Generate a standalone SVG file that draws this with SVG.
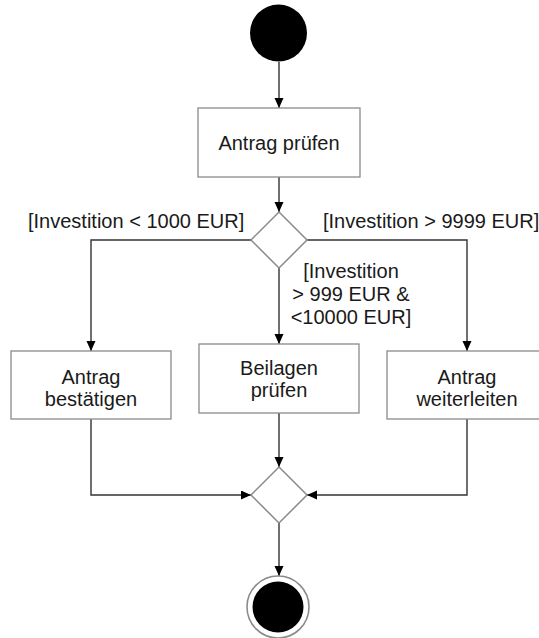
<svg xmlns="http://www.w3.org/2000/svg" width="539" height="638" viewBox="0 0 539 638">
<style>
.box{fill:#fff;stroke:#8a8a8a;stroke-width:1.3}
.dia{fill:#fff;stroke:#8a8a8a;stroke-width:1.5}
.con{fill:none;stroke:#333;stroke-width:1.4}
text{font-family:"Liberation Sans",Arial,sans-serif;font-size:20px;fill:#1a1a1a}
.c{text-anchor:middle}
</style>
<defs>
<marker id="ah" markerUnits="userSpaceOnUse" markerWidth="11" markerHeight="10" refX="10" refY="4.5" orient="auto">
<path d="M0,0 L10,4.5 L0,9 z" fill="#000"/>
</marker>
</defs>
<rect width="539" height="638" fill="#fff"/>
<g id="connectors">
<path class="con" d="M279,62 V108" marker-end="url(#ah)"/>
<path class="con" d="M279,177 V212" marker-end="url(#ah)"/>
<path class="con" d="M251,240 H91 V351" marker-end="url(#ah)"/>
<path class="con" d="M279,268 V344" marker-end="url(#ah)"/>
<path class="con" d="M307,240 H467 V351" marker-end="url(#ah)"/>
<path class="con" d="M91,419 V495 H251" marker-end="url(#ah)"/>
<path class="con" d="M279,413 V467" marker-end="url(#ah)"/>
<path class="con" d="M467,419 V495 H307" marker-end="url(#ah)"/>
<path class="con" d="M279,523 V576" marker-end="url(#ah)"/>
<text x="28" y="228">[Investition &lt; 1000 EUR]</text>
<text x="323" y="228">[Investition &gt; 9999 EUR]</text>
<text class="c" x="351" y="278">[Investition</text>
<text class="c" x="351" y="301">&gt; 999 EUR &amp;</text>
<text class="c" x="351" y="324">&lt;10000 EUR]</text>
</g>
<g id="start">
<circle cx="278.5" cy="33" r="28.5" fill="#000"/>
</g>
<g id="antrag-pruefen">
<rect class="box" x="198" y="108" width="162" height="69"/>
<text class="c" x="279" y="150">Antrag prüfen</text>
</g>
<g id="decision">
<path class="dia" d="M279,212 L307,240 L279,268 L251,240 Z"/>
</g>
<g id="antrag-bestaetigen">
<rect class="box" x="11" y="351" width="160" height="68"/>
<text class="c" x="91" y="384">Antrag</text>
<text class="c" x="91" y="406">bestätigen</text>
</g>
<g id="beilagen-pruefen">
<rect class="box" x="199" y="344" width="160" height="69"/>
<text class="c" x="279" y="375">Beilagen</text>
<text class="c" x="279" y="397">prüfen</text>
</g>
<g id="antrag-weiterleiten">
<rect class="box" x="387" y="351" width="160" height="68"/>
<text class="c" x="467" y="384">Antrag</text>
<text class="c" x="467" y="406">weiterleiten</text>
</g>
<g id="merge">
<path class="dia" d="M279,467 L307,495 L279,523 L251,495 Z"/>
</g>
<g id="end">
<circle cx="278" cy="607" r="31" fill="#fff" stroke="#8a8a8a" stroke-width="1.6"/>
<circle cx="278" cy="607" r="25.5" fill="#000"/>
</g>
</svg>
